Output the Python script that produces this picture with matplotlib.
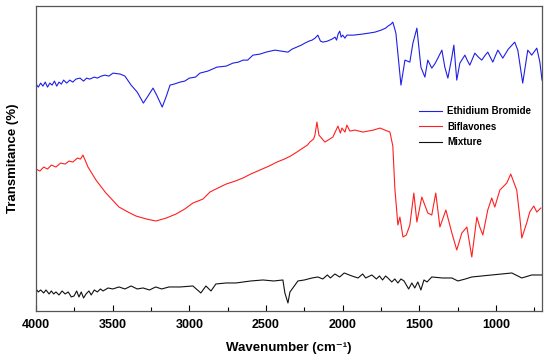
import numpy as np
import matplotlib.pyplot as plt
from matplotlib.ticker import MultipleLocator

plt.rcParams['font.family'] = ['Liberation Sans', 'DejaVu Sans']

# Ethidium Bromide (blue)
eb_w = [4000, 3985, 3970, 3955, 3940, 3925, 3910, 3895, 3880, 3865, 3850, 3835, 3820, 3800,
        3780, 3760, 3740, 3713, 3690, 3670, 3650, 3620, 3600, 3575, 3550, 3525, 3498, 3450,
        3420, 3380, 3340, 3300, 3270, 3237, 3210, 3177, 3150, 3126, 3100, 3061, 3030, 3000,
        2960, 2931, 2880, 2820, 2760, 2716, 2680, 2650, 2620, 2585, 2540, 2500, 2442, 2400,
        2357, 2330, 2300, 2270, 2247, 2220, 2200, 2180, 2162, 2145, 2129, 2100, 2070, 2050,
        2040, 2030, 2019, 2010, 2000, 1985, 1973, 1930, 1875, 1830, 1790, 1750, 1720, 1705,
        1685, 1673, 1653, 1620, 1594, 1562, 1542, 1516, 1490, 1464, 1445, 1419, 1400, 1386,
        1353, 1334, 1314, 1288, 1275, 1256, 1236, 1203, 1185, 1171, 1138, 1115, 1093, 1070,
        1054, 1021, 1005, 988, 956, 920, 878, 858, 826, 793, 767, 734, 714, 700]
eb_t = [227, 224, 228, 225, 229, 224, 228, 226, 230, 225, 229, 227, 231, 228,
        231, 229, 232, 233, 230, 233, 232, 234, 233, 235, 236, 235, 238, 237,
        235, 226, 219, 208, 215, 223, 215, 204, 215, 226, 227, 229, 230, 233,
        234, 238, 240, 244, 245, 248, 249, 251, 251, 256, 257, 259, 261, 260,
        259, 262, 264, 266, 268, 270, 271, 273, 276, 270, 269, 270, 272, 274,
        271, 277, 280, 274, 276, 273, 276, 276, 277, 278, 279, 281, 283, 285,
        287, 289, 278, 226, 251, 249, 268, 283, 244, 234, 251, 243, 247, 251,
        261, 244, 233, 254, 266, 231, 248, 256, 250, 246, 258, 254, 251, 256,
        259, 249, 255, 261, 253, 262, 269, 261, 228, 261, 256, 263, 249, 231]

# Biflavones (red)
bf_w = [4000, 3975, 3950, 3925, 3900, 3870, 3840, 3810, 3785, 3760, 3730, 3710, 3694, 3680,
        3661, 3609, 3544, 3459, 3400, 3348, 3280, 3218, 3150, 3087, 3030, 2977, 2911, 2866,
        2827, 2760, 2700, 2651, 2600, 2540, 2480, 2429, 2380, 2340, 2299, 2260, 2230, 2214,
        2190, 2181, 2168, 2155, 2116, 2064, 2031, 2015, 2005, 1985, 1973, 1953, 1920, 1868,
        1800, 1757, 1692, 1673, 1660, 1640, 1627, 1607, 1585, 1562, 1536, 1516, 1484, 1445,
        1419, 1393, 1366, 1327, 1288, 1256, 1223, 1190, 1158, 1125, 1106, 1086, 1054, 1028,
        1008, 975, 930, 904, 865, 845, 832, 800, 780, 754, 734, 708]
bf_t = [142, 140, 144, 142, 146, 144, 148, 147, 150, 149, 153, 152, 156, 151,
        144, 131, 118, 104, 99, 95, 92, 90, 93, 97, 102, 108, 112, 119,
        122, 127, 130, 133, 137, 141, 145, 149, 152, 155, 159, 163, 166, 169,
        172, 176, 189, 176, 169, 174, 185, 178, 183, 179, 186, 180, 181, 179,
        181, 183, 179, 165, 123, 86, 94, 74, 76, 86, 118, 89, 114, 98,
        96, 118, 84, 101, 78, 61, 78, 84, 54, 94, 84, 76, 101, 113,
        104, 121, 128, 137, 121, 94, 73, 88, 99, 105, 99, 103]

# Mixture (black)
mx_w = [4000, 3985, 3970, 3950, 3935, 3915, 3900, 3885, 3870, 3850, 3830, 3810, 3790, 3770,
        3752, 3735, 3720, 3705, 3690, 3674, 3655, 3640, 3620, 3600, 3580, 3563, 3530, 3500,
        3459, 3420, 3380, 3340, 3302, 3260, 3220, 3180, 3133, 3060, 2977, 2925, 2892, 2859,
        2827, 2760, 2696, 2600, 2520, 2450, 2390, 2377, 2357, 2344, 2325, 2292, 2250, 2200,
        2162, 2130, 2100, 2080, 2051, 2020, 1990, 1940, 1900, 1870, 1850, 1810, 1780, 1760,
        1740, 1720, 1705, 1680, 1660, 1640, 1620, 1600, 1585, 1570, 1549, 1530, 1510, 1490,
        1470, 1450, 1419, 1350, 1288, 1249, 1200, 1158, 1028, 897, 832, 767, 700]
mx_t = [22, 19, 21, 18, 21, 17, 20, 17, 19, 16, 20, 17, 19, 14,
        15, 20, 14, 19, 13, 17, 20, 16, 21, 19, 22, 20, 23, 22,
        24, 22, 25, 22, 23, 21, 24, 22, 24, 24, 25, 18, 25, 20,
        27, 28, 28, 30, 31, 30, 31, 18, 8, 19, 23, 30, 31, 33,
        34, 32, 36, 33, 37, 34, 38, 35, 33, 37, 33, 36, 32, 35,
        31, 35, 33, 29, 32, 28, 32, 30, 26, 22, 28, 23, 29, 21,
        31, 29, 34, 33, 33, 30, 32, 34, 36, 38, 33, 36, 36]

fig = plt.figure(figsize=(5.5, 3.62), dpi=100)
ax = fig.add_axes([0.0655, 0.141, 0.92, 0.842])

ax.plot(eb_w, eb_t, color='#1f1fe6', lw=0.8, label='Ethidium Bromide')
ax.plot(bf_w, bf_t, color='#ff1f1f', lw=0.8, label='Biflavones')
ax.plot(mx_w, mx_t, color='#111111', lw=0.8, label='Mixture')

ax.set_xlim(4000, 700)
ax.set_ylim(0, 305)
ax.set_yticks([])
ax.xaxis.set_major_locator(MultipleLocator(500))
ax.xaxis.set_minor_locator(MultipleLocator(250))
ax.tick_params(axis='x', which='major', direction='in', length=4, width=0.8,
               labelsize=9, pad=6)
ax.tick_params(axis='x', which='minor', direction='in', length=3, width=0.8)
for lab in ax.get_xticklabels():
    lab.set_fontweight('bold')
for sp in ax.spines.values():
    sp.set_color('#555555')
    sp.set_linewidth(0.9)

ax.set_xlabel('Wavenumber (cm\u207b\u00b9)', fontsize=9.5, fontweight='bold', labelpad=8)
ax.set_ylabel('Transmitance (%)', fontsize=9.5, fontweight='bold', labelpad=12)

leg = ax.legend(loc='upper left', bbox_to_anchor=(0.74, 0.70), frameon=False,
                prop={'size': 7, 'weight': 'bold'}, handlelength=2.3,
                handletextpad=0.6, labelspacing=0.55)

fig.savefig('out.png', dpi=100)
